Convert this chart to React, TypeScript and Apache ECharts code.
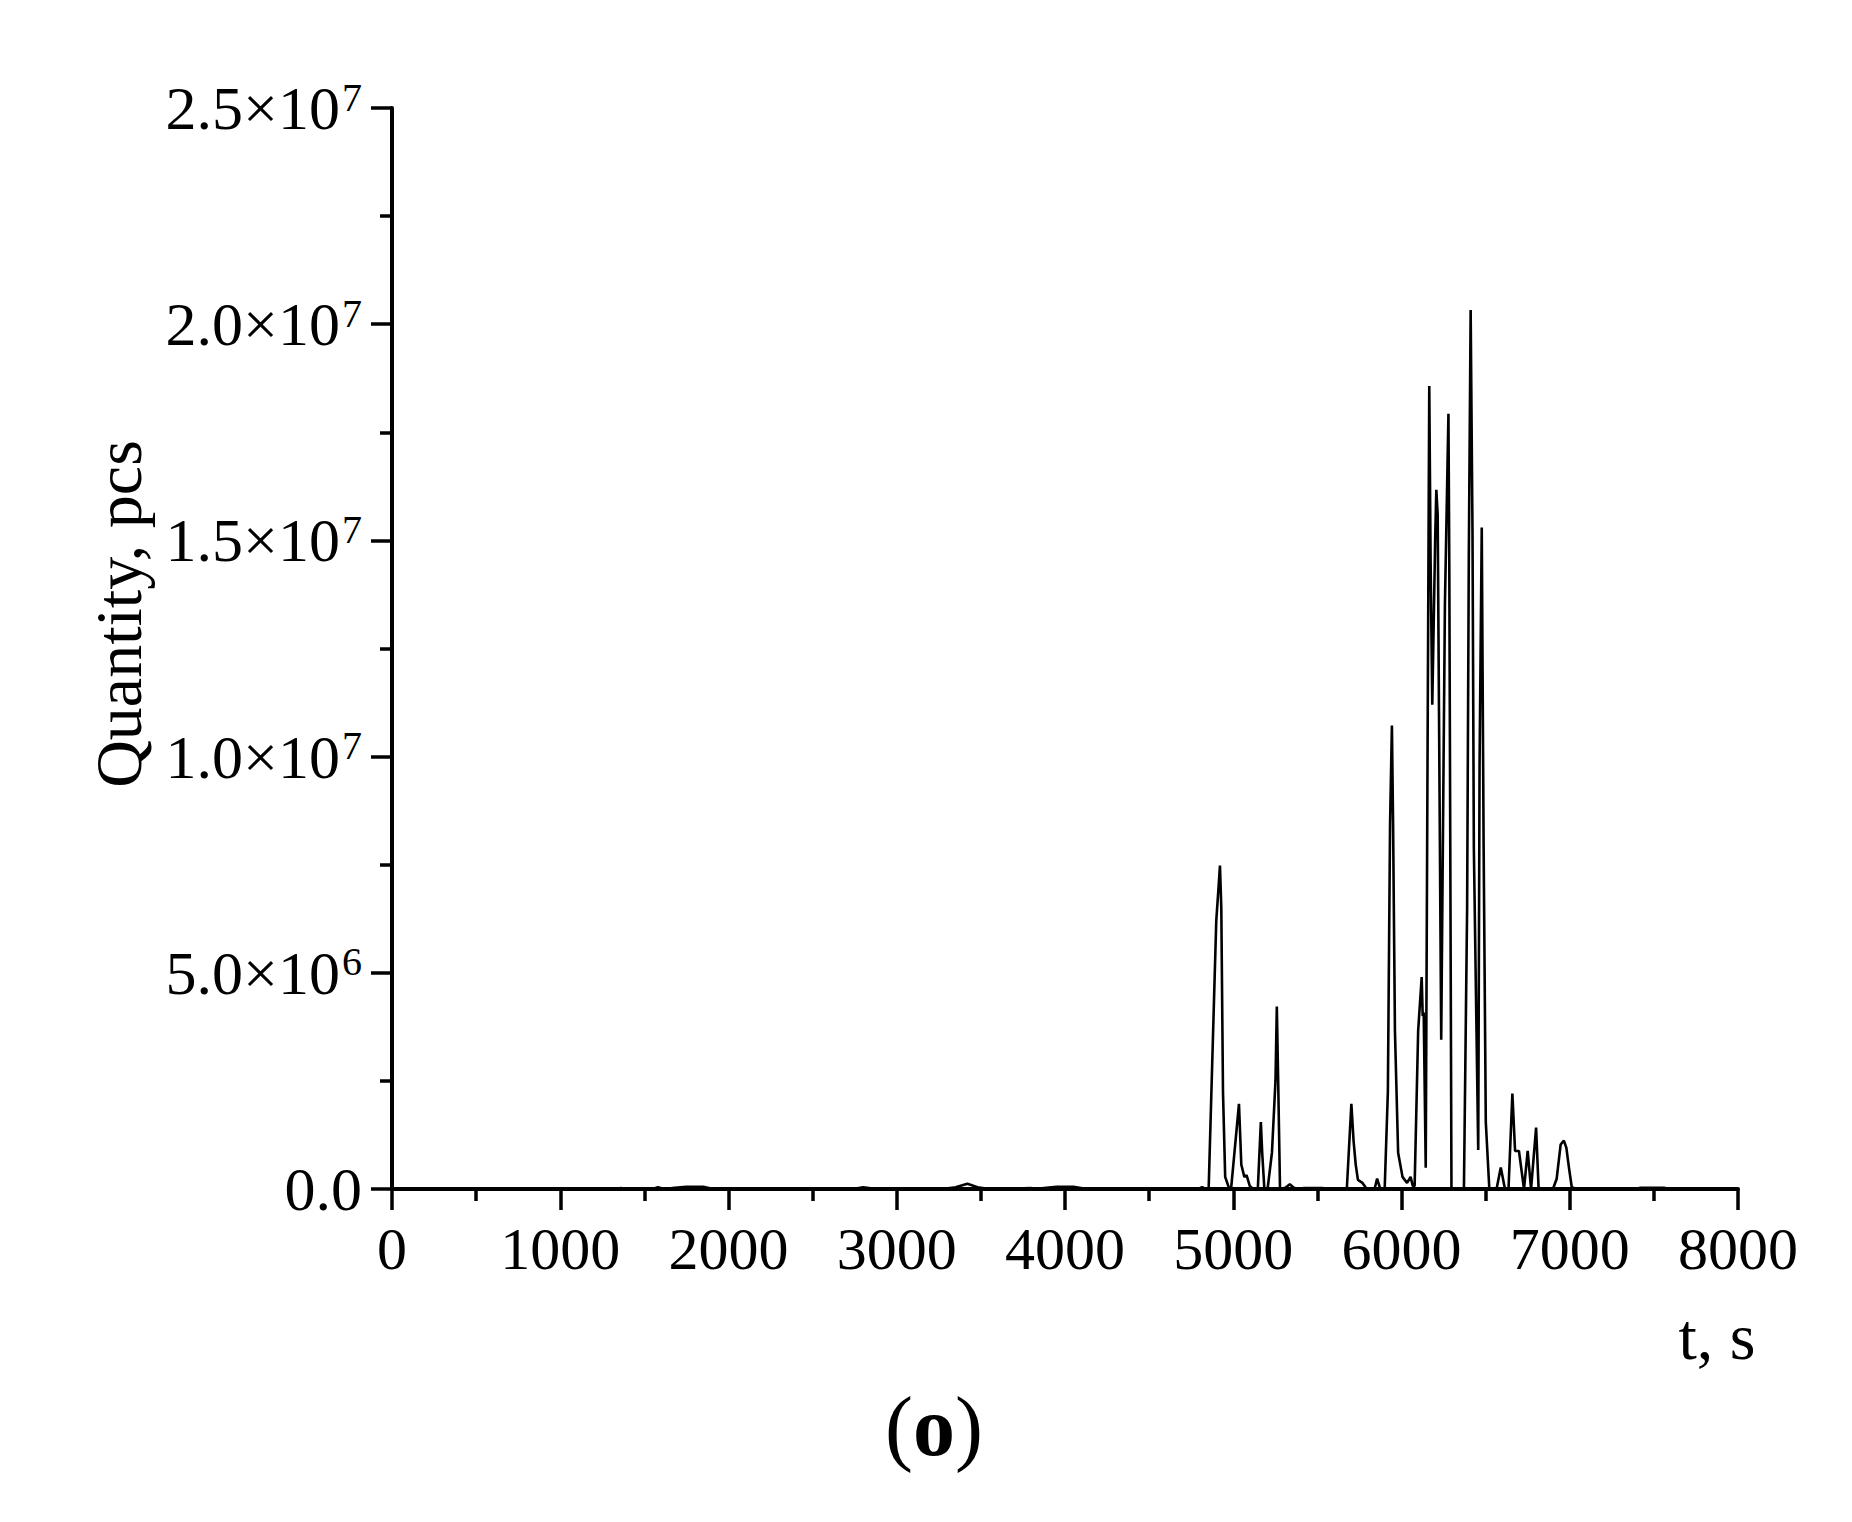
import React, { useEffect, useRef } from "react";
import * as echarts from "echarts";

// time axis (s)
const times: number[] = [
  0, 1340, 1360, 1380, 1550, 1580, 1620, 1680, 1750, 1850, 1910,
  2740, 2800, 2880, 3270, 3350, 3420, 3480, 3550, 3800, 3820, 3890, 3950, 4050, 4130,
  4790, 4815, 4835, 4854, 4899, 4913, 4921, 4929, 4939, 4952, 4974,
  4987, 5034, 5048, 5066, 5079, 5098, 5119,
  5146, 5164, 5172, 5185,
  5204, 5230, 5251, 5259, 5267, 5278,
  5310, 5336, 5360, 5384, 5420, 5530, 5560,
  5675, 5702, 5715, 5728, 5741, 5768, 5794, 5840, 5855, 5874,
  5900, 5919, 5932, 5943, 5950, 5961, 5980, 6006, 6033, 6054, 6067,
  6078, 6099, 6120, 6126, 6132, 6144, 6154, 6165, 6173, 6183, 6200, 6207, 6215, 6236,
  6258, 6279, 6284, 6297,
  6371, 6390, 6400, 6411, 6422, 6430, 6456, 6464, 6477, 6488, 6501, 6522,
  6565, 6590, 6615, 6636, 6659, 6675, 6698, 6728, 6750, 6770, 6800, 6815,
  6900, 6922, 6946, 6965, 6980, 6995, 7012, 7042,
  7390, 7420, 7560, 7590,
];

// quantity (pcs)
const quantities: number[] = [
  0, 0, 25000, 0, 0, 40000, 0, 30000, 50000, 50000, 0,
  0, 40000, 0, 0, 40000, 120000, 40000, 0, 20000, 0, 30000, 50000, 50000, 0,
  0, 40000, 0, 30000, 6200000, 7000000, 7480000, 6500000, 2250000, 280000, 30000,
  0, 1970000, 560000, 280000, 320000, 70000, 0,
  0, 1550000, 840000, 0,
  0, 840000, 2500000, 4220000, 2500000, 0,
  30000, 110000, 30000, 0, 20000, 20000, 0,
  0, 1970000, 1120000, 560000, 210000, 140000, 0, 0, 240000, 0,
  0, 2250000, 8440000, 10720000, 8440000, 3660000, 840000, 280000, 140000, 280000, 70000,
  70000, 3660000, 4900000, 4000000, 4080000, 490000, 9300000, 18570000, 14500000, 11200000, 15000000, 16170000, 15600000, 3450000,
  13500000, 17930000, 14500000, 0,
  0, 6500000, 14600000, 20330000, 15200000, 7900000, 900000, 9800000, 15300000, 8000000, 1550000, 0,
  0, 500000, 0, 0, 2210000, 880000, 880000, 0, 880000, 0, 1420000, 0,
  0, 230000, 1030000, 1120000, 950000, 500000, 40000, 0,
  0, 30000, 30000, 0,
];

const xTicks = { min: 0, max: 8000, step: 1000 };
const yTicks = { min: 0, max: 25000000, step: 5000000 };

const yTitle = "Quantity, pcs";
const xTitle = "t, s";
const panelLabel = "o";

const SERIF = '"Liberation Serif", "Times New Roman", serif';

function yLabel(v: number): string {
  if (v === 0) return "{m|0.0}";
  const e = Math.floor(Math.log10(v) + 1e-9);
  const m = v / Math.pow(10, e);
  return `{m|${m.toFixed(1)}×10}{e|${e}}`;
}

export default function App() {
  const ref = useRef<HTMLDivElement>(null);
  useEffect(() => {
    if (!ref.current) return;
    const chart = echarts.init(ref.current, null, { renderer: "svg" });
    const data = times.map((t, i) => [t, quantities[i]]);
    chart.setOption({
      animation: false,
      backgroundColor: "#fff",
      grid: { left: 392, right: 114, top: 108, bottom: 333, containLabel: false },
      xAxis: {
        type: "value",
        min: xTicks.min,
        max: xTicks.max,
        interval: xTicks.step,
        axisLine: { show: true, onZero: false, lineStyle: { color: "#000", width: 4 } },
        axisTick: { show: true, inside: false, length: 21, lineStyle: { color: "#000", width: 3.5 } },
        minorTick: { show: true, splitNumber: 2, length: 12, lineStyle: { color: "#000", width: 3.5 } },
        splitLine: { show: false },
        axisLabel: {
          color: "#000",
          fontFamily: SERIF,
          fontSize: 60,
          margin: 30,
          formatter: (v: number) => String(v),
        },
      },
      yAxis: {
        type: "value",
        min: yTicks.min,
        max: yTicks.max,
        interval: yTicks.step,
        axisLine: { show: true, lineStyle: { color: "#000", width: 4 } },
        axisTick: { show: true, inside: false, length: 21, lineStyle: { color: "#000", width: 3.5 } },
        minorTick: { show: true, splitNumber: 2, length: 12, lineStyle: { color: "#000", width: 3.5 } },
        splitLine: { show: false },
        axisLabel: {
          margin: 30,
          formatter: yLabel,
          rich: {
            m: { color: "#000", fontFamily: SERIF, fontSize: 62, lineHeight: 62, verticalAlign: "bottom" },
            e: { color: "#000", fontFamily: SERIF, fontSize: 40, lineHeight: 62, verticalAlign: "top", padding: [0, 0, 0, 2] },
          },
        },
      },
      series: [
        {
          type: "line",
          data,
          showSymbol: false,
          symbol: "none",
          lineStyle: { color: "#000", width: 2.6 },
          z: 1,
        },
      ],
      graphic: [
        {
          type: "text",
          x: 118,
          y: 614,
          rotation: Math.PI / 2,
          style: {
            text: yTitle,
            font: `66px ${SERIF}`,
            fill: "#000",
            align: "center",
            verticalAlign: "middle",
          },
        },
        {
          type: "text",
          x: 1717,
          y: 1336,
          style: {
            text: xTitle,
            font: `66px ${SERIF}`,
            fill: "#000",
            align: "center",
            verticalAlign: "middle",
          },
        },
        {
          type: "text",
          x: 934,
          y: 1426,
          style: {
            text: `{p|(}{b|${panelLabel}}{p|)}`,
            align: "center",
            verticalAlign: "middle",
            rich: {
              p: { fontFamily: SERIF, fontSize: 84, fill: "#000" },
              b: { fontFamily: SERIF, fontSize: 84, fontWeight: "bold", fill: "#000" },
            },
          },
        },
      ],
    });
    return () => chart.dispose();
  }, []);
  return (
    <div
      ref={ref}
      style={{ position: "absolute", left: 0, top: 0, width: 1852, height: 1522, background: "#fff" }}
    />
  );
}
